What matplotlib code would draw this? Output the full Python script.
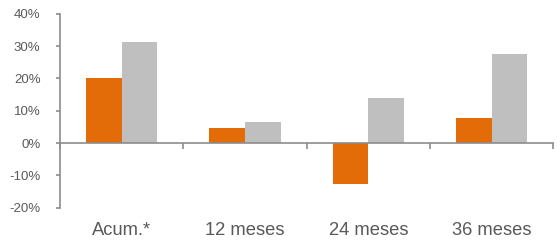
import numpy as np
import matplotlib
matplotlib.use("Agg")
import matplotlib.pyplot as plt
from matplotlib.ticker import FuncFormatter

# categories and series values (%)
categorias = ["Acum.*", "12 meses", "24 meses", "36 meses"]
serie_naranja = [20.2, 4.5, -12.7, 7.6]
serie_gris = [31.1, 6.4, 13.8, 27.4]

plt.rcParams['font.family'] = ['Liberation Sans', 'DejaVu Sans']

color_eje = "#8c8c8c"
color_texto = "#595959"

fig = plt.figure(figsize=(5.6, 2.42), dpi=100)
ax = fig.add_axes([60/560, 1-207.7/242, (553.3-60)/560, (207.7-13.7)/242])

x = np.arange(len(categorias))
w = 0.288
ax.bar(x - w/2, serie_naranja, w, color="#E36C09", zorder=2)
ax.bar(x + w/2, serie_gris, w, color="#BFBFBF", zorder=2)

ax.set_xlim(-0.5, len(categorias) - 0.5)
ax.set_ylim(-20, 40)
ax.set_yticks(np.arange(-20, 41, 10))
ax.yaxis.set_major_formatter(FuncFormatter(lambda v, p: f"{v:.0f}%"))

for s in ["top", "right", "bottom"]:
    ax.spines[s].set_visible(False)
ax.spines["left"].set_color(color_eje)
ax.spines["left"].set_linewidth(1.2)
ax.tick_params(axis="y", length=3, width=1.2, color=color_eje, pad=11,
               labelsize=9.5, labelcolor=color_texto)

ax.set_xticks(x)
ax.set_xticklabels(categorias)
ax.tick_params(axis="x", length=0, pad=10, labelsize=13.2, labelcolor=color_texto)

# zero line with category separators
sec = ax.secondary_xaxis(1/3)
sec.spines["bottom"].set_color(color_eje)
sec.spines["bottom"].set_linewidth(1.2)
sec.set_xticks(np.arange(-0.5, len(categorias), 1))
sec.tick_params(axis="x", length=4, width=1.2, color=color_eje, labelbottom=False)
sec.set_zorder(3)

fig.savefig("out.png", dpi=100)
